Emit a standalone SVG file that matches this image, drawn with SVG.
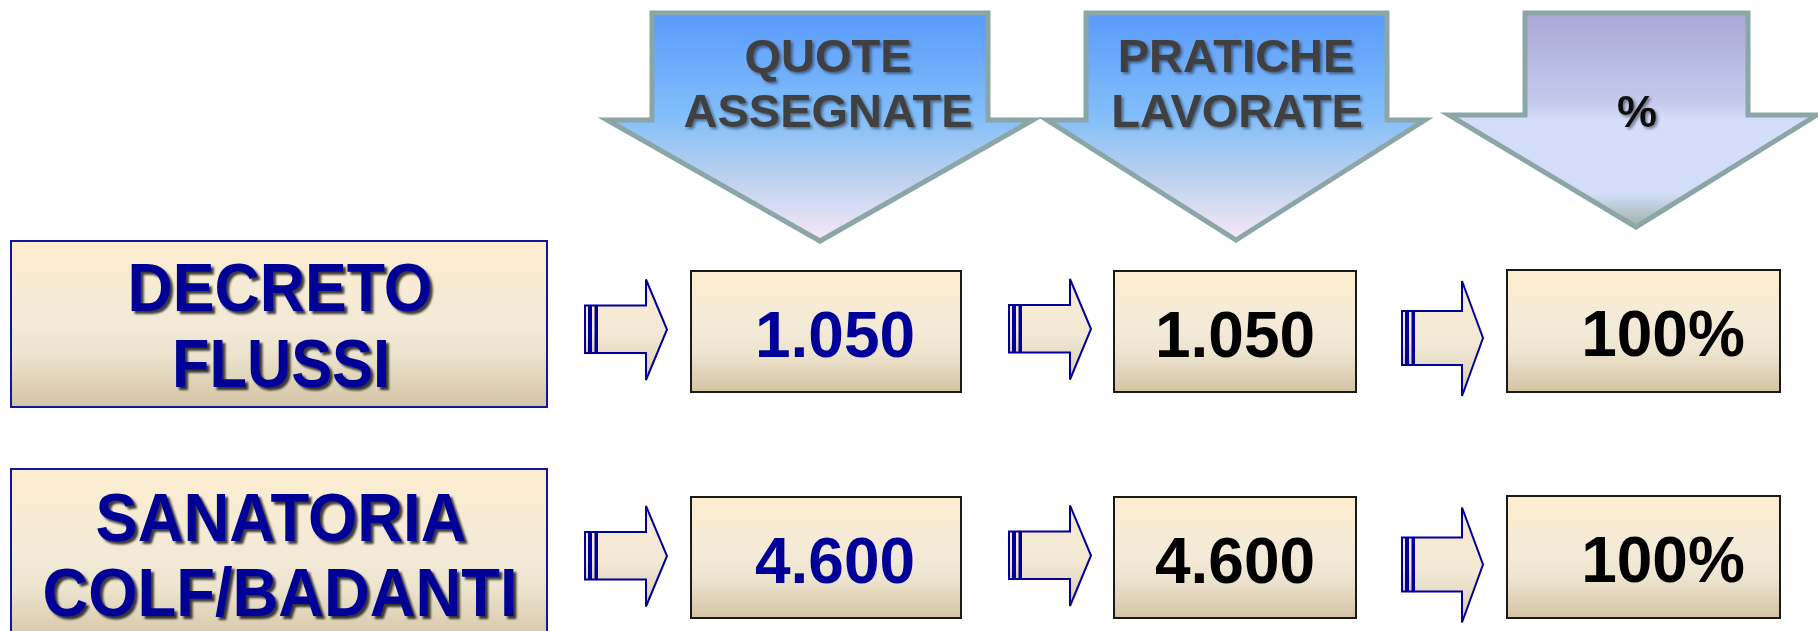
<svg xmlns="http://www.w3.org/2000/svg" width="1818" height="631" viewBox="0 0 1818 631">
<style>
.down{stroke:#8AA6A6;stroke-width:5;stroke-linejoin:miter}
.htxt{font-family:"Liberation Sans",Arial,sans-serif;font-weight:bold;font-size:47px;fill:#404040;text-anchor:middle}
.ltxt{font-family:"Liberation Sans",Arial,sans-serif;font-weight:bold;font-size:69px;fill:#000096;text-anchor:middle}
.num{font-family:"Liberation Sans",Arial,sans-serif;font-weight:bold;font-size:64px;text-anchor:middle}
.box{fill:url(#cream);stroke:#1a1a1a;stroke-width:2}
.lbox{fill:url(#cream);stroke:#14149A;stroke-width:2}
.ba{fill:url(#creamA);stroke:#000099;stroke-width:2;stroke-linejoin:miter}
</style>
<defs>
<linearGradient id="blue" x1="0" y1="0" x2="0" y2="1">
<stop offset="0" stop-color="#5A9AFA"/>
<stop offset="0.45" stop-color="#82BEFA"/>
<stop offset="0.7" stop-color="#B6CFEE"/>
<stop offset="1" stop-color="#F6E8F6"/>
</linearGradient>
<linearGradient id="lav" x1="0" y1="0" x2="0" y2="1">
<stop offset="0" stop-color="#A8A8D6"/>
<stop offset="0.42" stop-color="#C4CAEE"/>
<stop offset="0.5" stop-color="#D4DEFA"/>
<stop offset="0.84" stop-color="#D4DEFA"/>
<stop offset="0.93" stop-color="#B6C4CC"/>
<stop offset="1" stop-color="#A0B0A0"/>
</linearGradient>
<linearGradient id="cream" x1="0" y1="0" x2="0" y2="1">
<stop offset="0" stop-color="#FDEDD0"/>
<stop offset="0.5" stop-color="#F2EAD7"/>
<stop offset="0.68" stop-color="#EDE4CE"/>
<stop offset="1" stop-color="#D2C3A3"/>
</linearGradient>
<linearGradient id="creamA" x1="0" y1="0" x2="0" y2="1">
<stop offset="0" stop-color="#FBEBD0"/>
<stop offset="0.55" stop-color="#F1E9D6"/>
<stop offset="1" stop-color="#DACBAE"/>
</linearGradient>
<filter id="sh1" x="-10%" y="-20%" width="130%" height="150%">
<feDropShadow dx="2" dy="2" stdDeviation="1.5" flood-color="#000" flood-opacity="0.45"/>
</filter>
<filter id="sh2" x="-10%" y="-20%" width="130%" height="150%">
<feDropShadow dx="3" dy="3" stdDeviation="1" flood-color="#000" flood-opacity="0.75"/>
</filter>
<g id="arrowA">
<rect class="ba" x="0" y="-24" width="4" height="47.5"/>
<rect class="ba" x="6" y="-24" width="4.5" height="47.5"/>
<path class="ba" d="M12,-24 H61 V-50 L82,0 L61,50.5 V23.5 H12 Z"/>
</g>
<g id="arrowB">
<rect class="ba" x="0" y="-27" width="4" height="54"/>
<rect class="ba" x="6" y="-27" width="4.5" height="54"/>
<path class="ba" d="M12,-27 H60 V-57 L81,0 L60,58 V27 H12 Z"/>
</g>
</defs>
<rect width="1818" height="631" fill="#FFFFFF"/>

<g id="head-quote">
<path class="down" fill="url(#blue)" d="M652,13 H988 V120 H1033 L820,241 L607,120 H652 Z"/>
<g filter="url(#sh1)">
<text class="htxt" x="828" y="72">QUOTE</text>
<text class="htxt" x="828" y="127">ASSEGNATE</text>
</g>
</g>
<g id="head-pratiche">
<path class="down" fill="url(#blue)" d="M1086,13 H1387 V120 H1425 L1236,240 L1047,120 H1086 Z"/>
<g filter="url(#sh1)">
<text class="htxt" x="1236" y="72">PRATICHE</text>
<text class="htxt" x="1237" y="127">LAVORATE</text>
</g>
</g>
<g id="head-percent">
<path class="down" fill="url(#lav)" d="M1525,13 H1748 V115 H1817 L1636,227 L1449,115 H1525 Z"/>
<text class="htxt" x="1637" y="127" style="font-size:45px;fill:#111" filter="url(#sh1)">%</text>
</g>

<g id="row1-label">
<rect class="lbox" x="11" y="241" width="536" height="166"/>
<g filter="url(#sh2)">
<text class="ltxt" x="280" y="311" textLength="305" lengthAdjust="spacingAndGlyphs">DECRETO</text>
<text class="ltxt" x="281" y="387" textLength="218" lengthAdjust="spacingAndGlyphs">FLUSSI</text>
</g>
</g>
<g id="row2-label">
<rect class="lbox" x="11" y="469" width="536" height="175"/>
<g filter="url(#sh2)">
<text class="ltxt" x="281" y="541" textLength="371" lengthAdjust="spacingAndGlyphs">SANATORIA</text>
<text class="ltxt" x="280" y="616" textLength="475" lengthAdjust="spacingAndGlyphs">COLF/BADANTI</text>
</g>
</g>

<g id="r1c1"><rect class="box" x="691" y="271" width="270" height="121"/><text class="num" x="835" y="357" fill="#000099">1.050</text></g>
<g id="r1c2"><rect class="box" x="1114" y="271" width="242" height="121"/><text class="num" x="1235" y="357" fill="#000000">1.050</text></g>
<g id="r1c3"><rect class="box" x="1507" y="270" width="273" height="122"/><text class="num" x="1663" y="356" fill="#000000">100%</text></g>
<g id="r2c1"><rect class="box" x="691" y="497" width="270" height="121"/><text class="num" x="835" y="583" fill="#000099">4.600</text></g>
<g id="r2c2"><rect class="box" x="1114" y="497" width="242" height="121"/><text class="num" x="1235" y="583" fill="#000000">4.600</text></g>
<g id="r2c3"><rect class="box" x="1507" y="496" width="273" height="122"/><text class="num" x="1663" y="582" fill="#000000">100%</text></g>

<g id="connectors">
<use href="#arrowA" x="585" y="329.5"/>
<use href="#arrowA" x="1009" y="329"/>
<use href="#arrowB" x="1402" y="338"/>
<use href="#arrowA" x="585" y="556"/>
<use href="#arrowA" x="1009" y="555.5"/>
<use href="#arrowB" x="1402" y="564.5"/>
</g>
</svg>
